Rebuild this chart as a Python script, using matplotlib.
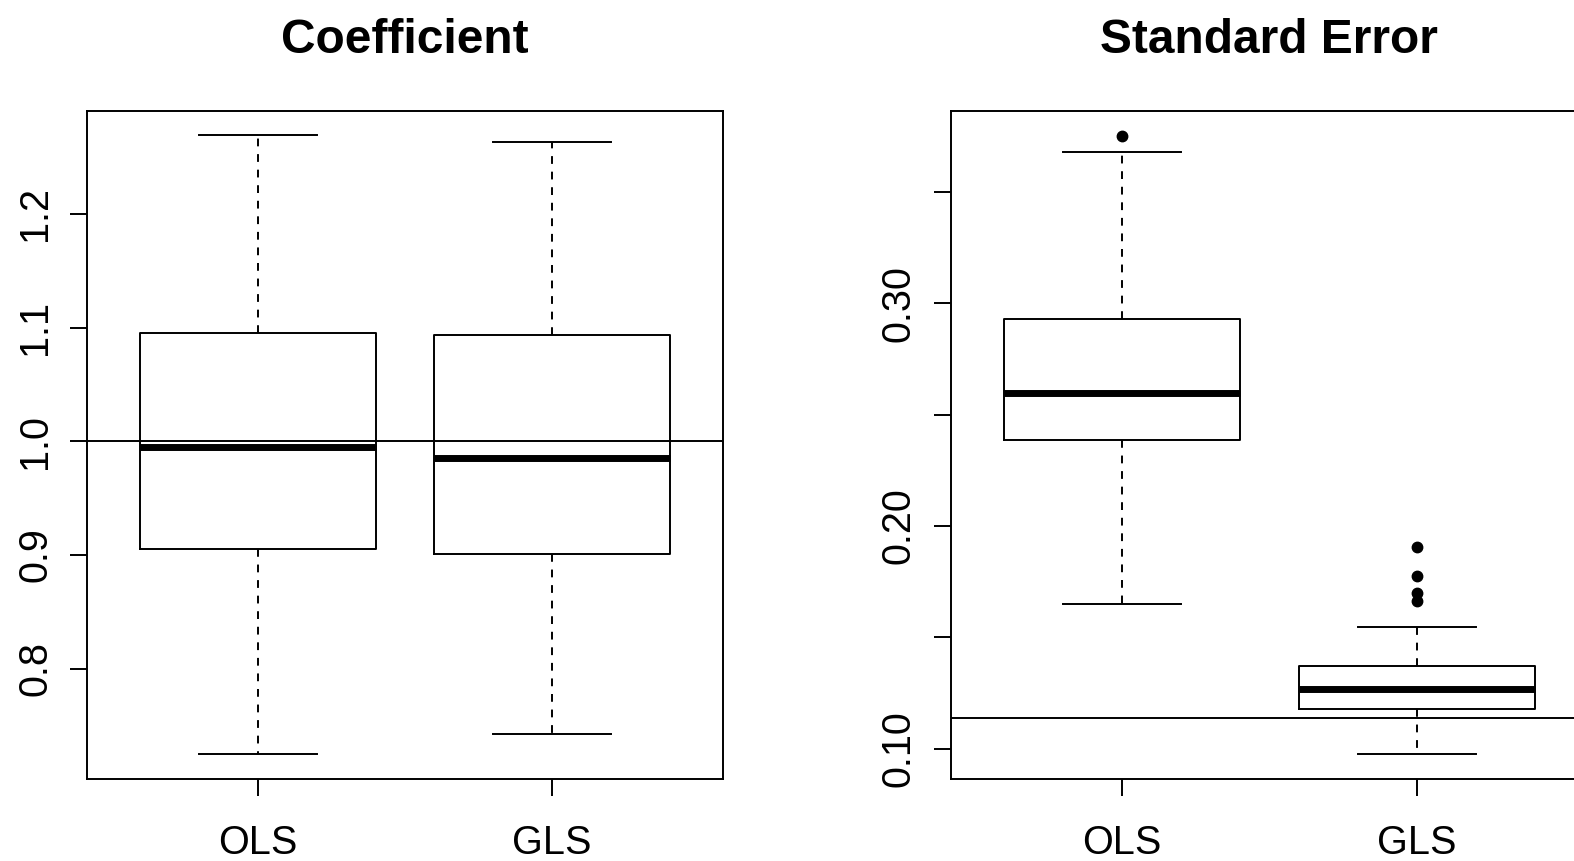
import matplotlib.pyplot as plt

plt.rcParams['font.family'] = ['Liberation Sans', 'DejaVu Sans']

groups = ['OLS', 'GLS']

# coefficient estimates: whisker low, q1, median, q3, whisker high
coef_low = [0.7249, 0.7426]
coef_q1 = [0.9053, 0.9009]
coef_med = [0.9947, 0.9850]
coef_q3 = [1.0956, 1.0938]
coef_high = [1.2689, 1.2627]
coef_fliers = [[], []]
coef_true = 1.0

# standard errors
se_low = [0.1649, 0.0977]
se_q1 = [0.2387, 0.1178]
se_med = [0.2599, 0.1271]
se_q3 = [0.2928, 0.1371]
se_high = [0.3676, 0.1546]
se_fliers = [[0.3748], [0.1904, 0.1775, 0.1700, 0.1664]]
se_true = 0.1141


def make_stats(low, q1, med, q3, high, fliers):
    stats = []
    for i in range(len(groups)):
        stats.append(dict(whislo=low[i], q1=q1[i], med=med[i], q3=q3[i],
                          whishi=high[i], fliers=fliers[i], label=groups[i]))
    return stats


def draw_panel(ax, stats, ref, title, yticks, ylabels, ylim):
    lw = 1.4
    ax.bxp(stats, positions=[1, 2], widths=0.8, showfliers=True,
           boxprops=dict(color='black', linewidth=lw),
           whiskerprops=dict(color='black', linewidth=lw, linestyle=(0, (4, 4))),
           capprops=dict(color='black', linewidth=lw),
           medianprops=dict(color='black', linewidth=5, solid_capstyle='butt'),
           flierprops=dict(marker='o', markerfacecolor='black',
                           markeredgecolor='black', markersize=7.5))
    ax.axhline(ref, color='black', linewidth=lw)
    ax.set_xlim(0.42, 2.58)
    ax.set_ylim(*ylim)
    ax.set_yticks(yticks)
    ax.set_yticklabels(ylabels, rotation=90, va='center')
    ax.set_xticks([1, 2])
    ax.set_xticklabels(groups)
    ax.tick_params(axis='both', direction='out', length=12, width=lw,
                   labelsize=28.5)
    ax.tick_params(axis='y', pad=12)
    ax.tick_params(axis='x', pad=20.5)
    for s in ax.spines.values():
        s.set_linewidth(lw)
    ax.set_title(title, fontsize=34.5, fontweight='bold', pad=42)


fig = plt.figure(figsize=(15.74, 8.61), dpi=100)
ax1 = fig.add_axes([0.0555, 0.0952, 0.4036, 0.7754])
ax2 = fig.add_axes([0.6039, 0.0952, 0.4048, 0.7754])

draw_panel(ax1, make_stats(coef_low, coef_q1, coef_med, coef_q3, coef_high, coef_fliers),
           coef_true, 'Coefficient', [0.8, 0.9, 1.0, 1.1, 1.2],
           ['0.8', '0.9', '1.0', '1.1', '1.2'], (0.703, 1.290))
draw_panel(ax2, make_stats(se_low, se_q1, se_med, se_q3, se_high, se_fliers),
           se_true, 'Standard Error', [0.10, 0.15, 0.20, 0.25, 0.30, 0.35],
           ['0.10', '', '0.20', '', '0.30', ''], (0.0865, 0.386))

fig.savefig('out.png', dpi=100)
